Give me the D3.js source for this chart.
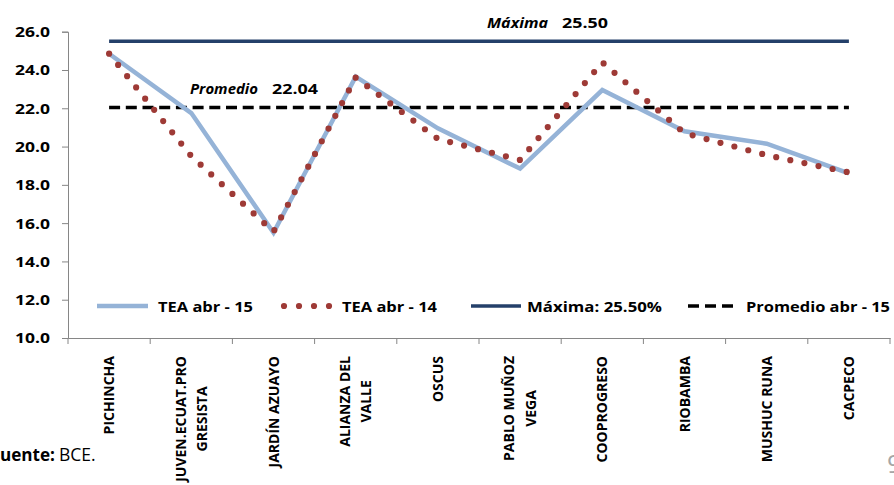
<!DOCTYPE html>
<html>
<head>
<meta charset="utf-8">
<script src="https://cdn.jsdelivr.net/npm/d3@7"></script>
<style>
  html, body { margin: 0; padding: 0; background: #fff; overflow: hidden; }
  svg { display: block; font-family: "Open Sans", Lato, sans-serif; }
</style>
</head>
<body>
<svg id="chart" width="894" height="485"></svg>
<script>
const categories = ["PICHINCHA", "JUVEN.ECUAT.PRO\nGRESISTA", "JARDÍN AZUAYO", "ALIANZA DEL\nVALLE", "OSCUS",
  "PABLO MUÑOZ\nVEGA", "COOPROGRESO", "RIOBAMBA", "MUSHUC RUNA", "CACPECO"];
const tea15 = [24.85, 21.75, 15.5, 23.65, 20.95, 18.85, 22.95, 20.8, 20.15, 18.6];
const tea14 = [24.85, 19.5, 15.55, 23.6, 20.4, 19.3, 24.4, 20.7, 19.55, 18.65];
const maxima = 25.50;
const promedio = 22.04;
const yTicks = [10, 12, 14, 16, 18, 20, 22, 24, 26];
const legendLabels = ["TEA abr - 15", "TEA abr - 14", "Máxima: 25.50%", "Promedio abr - 15"];

(function () {
const svg = d3.select("#chart");
const pLeft = 68, pRight = 890, pTop = 31.7, pBottom = 338;

const x = d3.scaleBand().domain(categories).range([pLeft, pRight]).padding(0);
const y = d3.scaleLinear().domain([10, 26]).range([pBottom, pTop]);
const cx = d => x(d) + x.bandwidth() / 2;

const axisColor = "#868686";
const blue = "#95B3D7", red = "#9E3A36", navy = "#24406A";
const fit = (sel, w) => sel.attr("textLength", w).attr("lengthAdjust", "spacingAndGlyphs");

// Y axis
const yAxis = svg.append("g").attr("transform", `translate(${pLeft},0)`)
  .call(d3.axisLeft(y).tickValues(yTicks).tickFormat(d3.format(".1f")).tickSize(6).tickPadding(12));
yAxis.select(".domain").attr("stroke", axisColor);
yAxis.selectAll(".tick line").attr("stroke", axisColor);
yAxis.selectAll(".tick text").attr("font-size", 14.5).attr("font-weight", "bold")
  .attr("fill", "#000").attr("font-family", "'Open Sans', sans-serif").attr("dy", "0.34em")
  .attr("textLength", 35).attr("lengthAdjust", "spacingAndGlyphs");

// X axis
const xAxis = svg.append("g").attr("transform", `translate(0,${pBottom})`)
  .call(d3.axisBottom(x).tickSize(0).tickFormat(""));
xAxis.select(".domain").attr("stroke", axisColor);
xAxis.selectAll(".tick").remove();
const boundaries = categories.map(c => x(c)).concat([pRight]);
xAxis.selectAll("line.bt").data(boundaries).enter().append("line")
  .attr("x1", d => d).attr("x2", d => d).attr("y1", 0).attr("y2", 6)
  .attr("stroke", axisColor);

// Category labels (rotated)
const labelTop = 356;
categories.forEach(c => {
  const lines = c.split("\n");
  const g = svg.append("g").attr("transform", `translate(${cx(c)},${labelTop}) rotate(-90)`);
  const texts = lines.map((ln, i) => g.append("text")
    .attr("font-size", 14).attr("font-weight", "bold").attr("fill", "#000")
    .attr("y", (i - (lines.length - 1) / 2) * 21.5 + 5)
    .text(ln));
  const W = d3.max(texts, t => t.node().getComputedTextLength());
  texts.forEach(t => t.attr("x", -W / 2).attr("text-anchor", "middle"));
});

// Reference lines
const first = categories[0], last = categories[categories.length - 1];
svg.append("line").attr("x1", cx(first)).attr("x2", cx(last))
  .attr("y1", y(maxima)).attr("y2", y(maxima))
  .attr("stroke", navy).attr("stroke-width", 3.5);
svg.append("line").attr("x1", cx(first)).attr("x2", cx(last))
  .attr("y1", y(promedio)).attr("y2", y(promedio))
  .attr("stroke", "#000").attr("stroke-width", 3.5).attr("stroke-dasharray", "11,5.7");

// Series lines
const line = d3.line().x((d, i) => cx(categories[i])).y(d => y(d));
svg.append("path").datum(tea15).attr("d", line)
  .attr("fill", "none").attr("stroke", blue).attr("stroke-width", 4.5).attr("stroke-linejoin", "miter");
svg.append("path").datum(tea14).attr("d", line)
  .attr("fill", "none").attr("stroke", red).attr("stroke-width", 6.2)
  .attr("stroke-linecap", "round").attr("stroke-dasharray", "0,14.4");

// Annotations
const ann = svg.append("g").attr("font-weight", "bold").attr("fill", "#000");
fit(ann.append("text").attr("x", 487).attr("y", 28).attr("font-size", 14).attr("font-style", "italic").text("Máxima"), 61);
fit(ann.append("text").attr("x", 562).attr("y", 28).attr("font-size", 14.5).text(d3.format(".2f")(maxima)), 46);
fit(ann.append("text").attr("x", 190).attr("y", 94).attr("font-size", 14).attr("font-style", "italic").text("Promedio"), 68);
fit(ann.append("text").attr("x", 272).attr("y", 94).attr("font-size", 14.5).text(d3.format(".2f")(promedio)), 46);

// Legend
const ly = 306;
const leg = svg.append("g");
leg.append("line").attr("x1", 97).attr("x2", 148).attr("y1", ly).attr("y2", ly)
  .attr("stroke", blue).attr("stroke-width", 4.5);
leg.append("line").attr("x1", 284).attr("x2", 330).attr("y1", ly).attr("y2", ly)
  .attr("stroke", red).attr("stroke-width", 6.2).attr("stroke-linecap", "round").attr("stroke-dasharray", "0,15");
leg.append("line").attr("x1", 471).attr("x2", 521).attr("y1", ly).attr("y2", ly)
  .attr("stroke", navy).attr("stroke-width", 3.5);
leg.append("line").attr("x1", 688).attr("x2", 733).attr("y1", ly).attr("y2", ly)
  .attr("stroke", "#000").attr("stroke-width", 3.5).attr("stroke-dasharray", "11,6");
const legX = [158, 342, 527, 746];
const legW = [95, 95, 135, 144];
legendLabels.forEach((t, i) => {
  fit(leg.append("text").attr("x", legX[i]).attr("y", ly + 5.5).attr("font-size", 14)
    .attr("font-weight", "bold").attr("fill", "#000").text(t), legW[i]);
});

// Source note (left part of "Fuente" cut off in the reference)
const src = svg.append("text").attr("x", 0).attr("y", 461).attr("font-size", 17.5).attr("fill", "#000");
fit(src.append("tspan").attr("font-weight", "bold").text("uente:"), 55);
src.append("tspan").attr("x", 59).attr("font-weight", "normal").text("BCE.");

// Page number (clipped at right edge)
svg.append("text").attr("x", 887).attr("y", 473).attr("font-size", 26).attr("fill", "#A6A6A6").text("9");
})();
</script>
</body>
</html>
